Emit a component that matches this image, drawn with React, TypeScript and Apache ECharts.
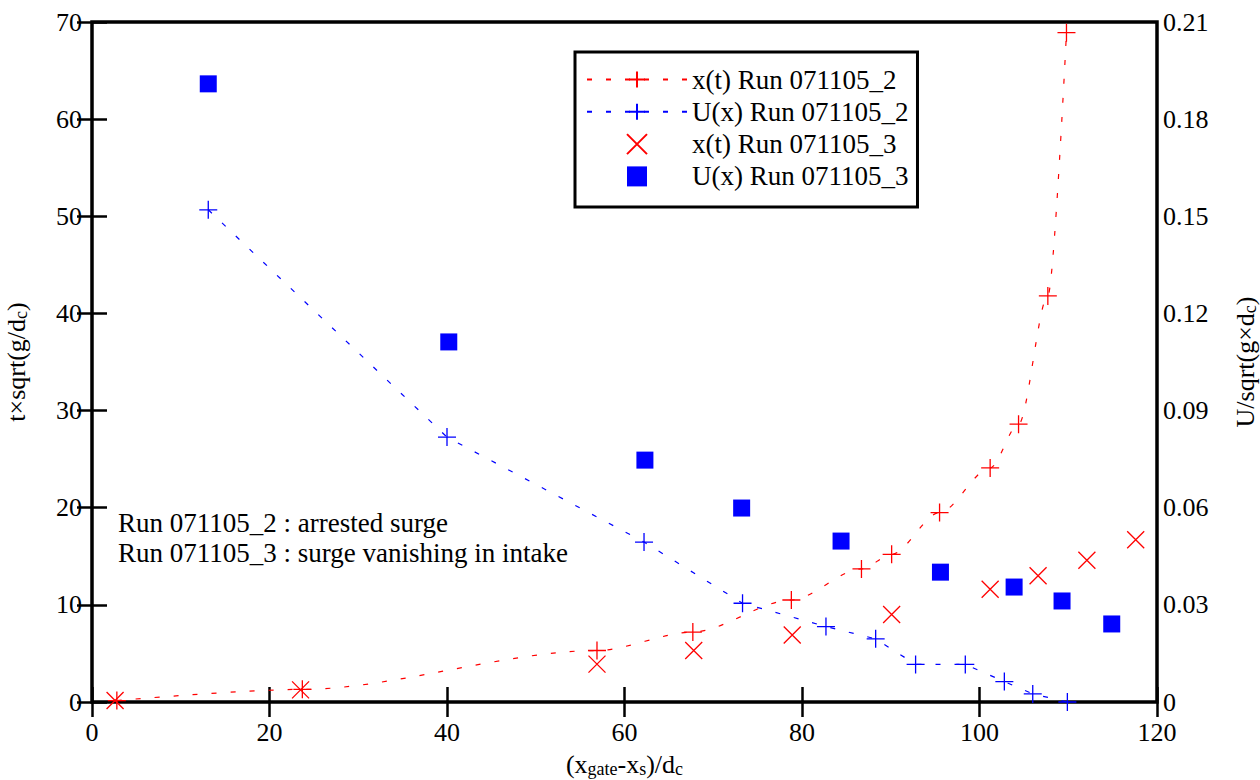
import React, { useEffect, useRef } from 'react';
import * as echarts from 'echarts';

// x(t) Run 071105_2 (red +, dashed line)
const run2TimeX = [2.8, 23.7, 56.9, 67.7, 78.8, 86.7, 90.1, 95.5, 101.2, 104.4, 107.7, 109.8];
const run2TimeY = [0.15, 1.3, 5.3, 7.2, 10.5, 13.7, 15.2, 19.5, 24.1, 28.6, 41.8, 68.9];
// U(x) Run 071105_2 (blue +, dashed line), right axis
const run2SpeedX = [13.1, 40.0, 62.2, 73.3, 82.7, 88.3, 92.8, 98.4, 102.8, 106.0, 109.9];
const run2SpeedY = [0.152, 0.0818, 0.0494, 0.0305, 0.0233, 0.0195, 0.0116, 0.0116, 0.0063, 0.0025, 0.0];
// x(t) Run 071105_3 (red x)
const run3TimeX = [2.6, 23.5, 56.9, 67.8, 78.9, 90.1, 101.2, 106.6, 112.1, 117.6];
const run3TimeY = [0.15, 1.25, 3.9, 5.3, 6.9, 9.0, 11.6, 13.0, 14.6, 16.7];
// U(x) Run 071105_3 (blue squares), right axis
const run3SpeedX = [13.1, 40.2, 62.3, 73.2, 84.4, 95.6, 103.9, 109.3, 114.9];
const run3SpeedY = [0.1909, 0.1112, 0.0747, 0.0599, 0.0497, 0.0401, 0.0355, 0.0312, 0.0241];

const seriesNames = ['x(t) Run 071105_2', 'U(x) Run 071105_2', 'x(t) Run 071105_3', 'U(x) Run 071105_3'];
const noteLines = ['Run 071105_2 : arrested surge', 'Run 071105_3 : surge vanishing in intake'];

const zip = (xs: number[], ys: number[]) => xs.map((x, i) => [x, ys[i]]);

const FONT = "'Liberation Serif', 'Times New Roman', Times, serif";
const FS = 27;
const TICK_FS = 26;
const RED = '#ff0000';
const BLUE = '#0000ff';
const PLUS = 'path://M0,5L10,5M5,0L5,10';
const CROSS = 'path://M0,0L10,10M10,0L0,10';
const SQUARE = 'path://M0,0L10,0L10,10L0,10Z';

const tickStyle = { inside: true, length: 15, lineStyle: { color: '#000', width: 2.5 } };
const labelStyle = { color: '#000', fontFamily: FONT, fontSize: TICK_FS };
const nameRich = {
  a: { fontFamily: FONT, fontSize: 26, color: '#000', lineHeight: 28 },
  s: { fontFamily: FONT, fontSize: 18, color: '#000', lineHeight: 18, verticalAlign: 'bottom' as const },
};

export default function App() {
  const ref = useRef<HTMLDivElement>(null);
  useEffect(() => {
    const chart = echarts.init(ref.current!, null, { renderer: 'svg' });
    chart.setOption({
      animation: false,
      backgroundColor: '#fff',
      textStyle: { fontFamily: FONT },
      grid: {
        left: 92, right: 103, top: 22, bottom: 78, show: true, borderColor: '#000', borderWidth: 3.5,
        backgroundColor: 'transparent', containLabel: false, outerBoundsMode: 'none',
      },
      legend: {
        left: 575,
        top: 52,
        orient: 'vertical',
        align: 'left',
        data: seriesNames,
        itemWidth: 100,
        itemHeight: 20,
        itemGap: 5.3,
        padding: [14, 9, 17, 11],
        borderColor: '#000',
        borderWidth: 3,
        backgroundColor: '#fff',
        textStyle: { fontFamily: FONT, fontSize: FS, color: '#000', lineHeight: 27 },
      },
      xAxis: [
        {
          type: 'value', min: 0, max: 120, interval: 20, position: 'bottom',
          axisLine: { show: false }, splitLine: { show: false },
          axisTick: tickStyle,
          axisLabel: { ...labelStyle, margin: 17 },
          name: '{a|(x}{s|gate}{a|-x}{s|s}{a|)/d}{s|c}',
          nameLocation: 'middle', nameGap: 48,
          nameTextStyle: { rich: nameRich },
        },
        {
          type: 'value', min: 0, max: 120, interval: 20, position: 'top',
          axisLine: { show: false }, splitLine: { show: false },
          axisTick: tickStyle, axisLabel: { show: false },
        },
      ],
      yAxis: [
        {
          type: 'value', min: 0, max: 70, interval: 10, position: 'left',
          axisLine: { show: false }, splitLine: { show: false },
          axisTick: tickStyle,
          axisLabel: { ...labelStyle, margin: 10 },
          name: '{a|t×sqrt(g/d}{s|c}{a|)}',
          nameLocation: 'middle', nameGap: 62, nameRotate: 90,
          nameTextStyle: { rich: nameRich },
        },
        {
          type: 'value', min: 0, max: 0.21, interval: 0.03, position: 'right',
          axisLine: { show: false }, splitLine: { show: false },
          axisTick: tickStyle,
          axisLabel: { ...labelStyle, margin: 6, formatter: (v: number) => (v === 0 ? '0' : v.toFixed(2)) },
          name: '{a|U/sqrt(g×d}{s|c}{a|)}',
          nameLocation: 'middle', nameGap: 74, nameRotate: 90,
          nameTextStyle: { rich: nameRich },
        },
      ],
      series: [
        {
          name: seriesNames[0], type: 'line', xAxisIndex: 0, yAxisIndex: 0,
          data: zip(run2TimeX, run2TimeY),
          smooth: 0.3, smoothMonotone: 'x',
          symbol: PLUS, symbolSize: 18,
          itemStyle: { color: 'rgba(0,0,0,0)', borderColor: RED, borderWidth: 1.3 },
          lineStyle: { color: RED, width: 1.2, type: [5, 14] },
        },
        {
          name: seriesNames[1], type: 'line', xAxisIndex: 0, yAxisIndex: 1,
          data: zip(run2SpeedX, run2SpeedY),
          symbol: PLUS, symbolSize: 18,
          itemStyle: { color: 'rgba(0,0,0,0)', borderColor: BLUE, borderWidth: 1.3 },
          lineStyle: { color: BLUE, width: 1.2, type: [5, 14] },
        },
        {
          name: seriesNames[2], type: 'scatter', xAxisIndex: 0, yAxisIndex: 0,
          data: zip(run3TimeX, run3TimeY),
          symbol: CROSS, symbolSize: 17, symbolKeepAspect: true,
          itemStyle: { color: 'rgba(0,0,0,0)', borderColor: RED, borderWidth: 1.3, opacity: 1 },
        },
        {
          name: seriesNames[3], type: 'scatter', xAxisIndex: 0, yAxisIndex: 1,
          data: zip(run3SpeedX, run3SpeedY),
          symbol: SQUARE, symbolSize: 17, symbolKeepAspect: true,
          itemStyle: { color: BLUE, opacity: 1 },
        },
      ],
      graphic: noteLines.map((t, i) => ({
        type: 'text', left: 118, top: 509 + i * 30,
        style: { text: t, fontFamily: FONT, fontSize: FS, fill: '#000' },
      })),
    });
    return () => chart.dispose();
  }, []);
  return <div ref={ref} style={{ position: 'absolute', left: 0, top: 0, width: 1260, height: 780 }} />;
}
